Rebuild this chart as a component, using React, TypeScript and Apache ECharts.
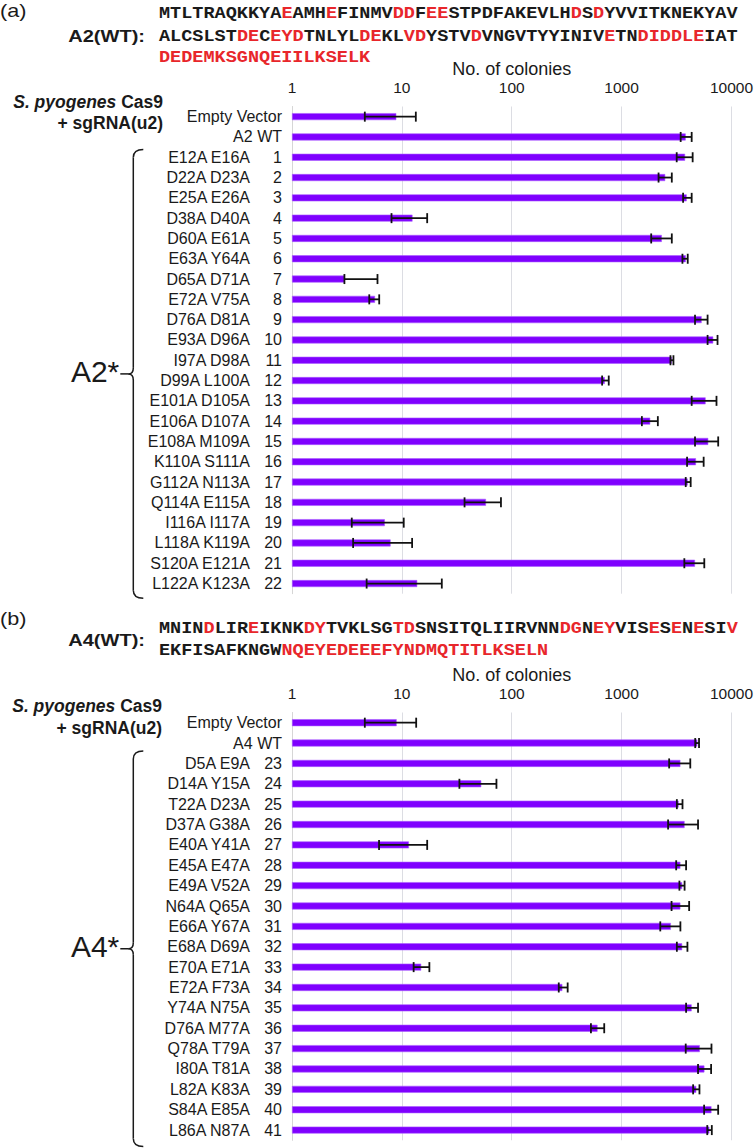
import React, { useEffect, useRef } from "react";
import * as echarts from "echarts";

// ---------- DATA ----------
const A2_SEQ = [
  "MTLTRAQKKYA[E]AMH[E]FINMV[DD]F[EE]STPDFAKEVLH[D]S[D]YVVITKNEKYAV",
  "ALCSLST[DE]C[EYD]TNLYL[DE]KL[VD]YSTV[D]VNGVTYYINIV[E]TN[DIDDLE]IAT",
  "[DEDEMKSGNQEIILKSELK]",
];
const A4_SEQ = [
  "MNIN[D]LIR[E]IKNK[DY]TVKLSG[TD]SNSITQLIIRVNN[DG]N[EY]VIS[E]S[E]N[E]SI[V]",
  "EKFISAFKNGW[NQEYEDEEEFYNDMQTITLKSELN]",
];

const A2_CONTROLS = ["Empty Vector", "A2 WT"];
const A2_MUTANTS = [
  "E12A E16A", "D22A D23A", "E25A E26A", "D38A D40A", "D60A E61A", "E63A Y64A",
  "D65A D71A", "E72A V75A", "D76A D81A", "E93A D96A", "I97A D98A", "D99A L100A",
  "E101A D105A", "E106A D107A", "E108A M109A", "K110A S111A", "G112A N113A",
  "Q114A E115A", "I116A I117A", "L118A K119A", "S120A E121A", "L122A K123A",
];
const A2_NUMBERS = ["1","2","3","4","5","6","7","8","9","10","11","12","13","14","15","16","17","18","19","20","21","22"];
const A2_MEAN = [8.9, 3835, 3785, 2495, 3915, 12.5, 2325, 3840, 3.0, 5.7, 5355, 6825, 2865, 703, 5820, 1823, 6150, 4755, 4000, 58.3, 7.0, 7.9, 4660, 13.8];
const A2_LOW = [4.6, 3450, 3175, 2170, 3630, 8.05, 1860, 3580, 3.0, 5.05, 4660, 6065, 2785, 665, 4345, 1530, 4660, 3945, 3835, 37.2, 3.5, 3.6, 3725, 4.78];
const A2_HIGH = [13.4, 4345, 4435, 2865, 4345, 17, 2865, 4000, 6.0, 6.22, 6065, 7470, 2965, 764, 7310, 2138, 7575, 5585, 4255, 79.8, 10.4, 12.4, 5660, 23.1];

const A4_CONTROLS = ["Empty Vector", "A4 WT"];
const A4_MUTANTS = [
  "D5A E9A", "D14A Y15A", "T22A D23A", "D37A G38A", "E40A Y41A", "E45A E47A",
  "E49A V52A", "N64A Q65A", "E66A Y67A", "E68A D69A", "E70A E71A", "E72A F73A",
  "Y74A N75A", "D76A M77A", "Q78A T79A", "I80A T81A", "L82A K83A", "S84A E85A", "L86A N87A",
];
const A4_NUMBERS = ["23","24","25","26","27","28","29","30","31","32","33","34","35","36","37","38","39","40","41"];
const A4_MEAN = [8.97, 4890, 3430, 52.8, 3305, 3745, 11.6, 3430, 3560, 3430, 2810, 3560, 15.0, 289, 4345, 604, 5155, 5675, 4785, 6580, 6295];
const A4_LOW = [4.6, 4680, 2710, 33.4, 3185, 2650, 6.2, 3140, 3360, 2850, 2250, 3185, 12.8, 268, 3865, 526, 3835, 4965, 4480, 5640, 6025];
const A4_HIGH = [13.5, 5070, 4220, 72.6, 3585, 4965, 17, 3865, 3745, 4120, 3430, 3975, 17.8, 323, 4965, 695, 6580, 6530, 5115, 7570, 6625];

const X_TICKS = ["1", "10", "100", "1000", "10000"];

// ---------- helpers ----------
const SANS = "'Liberation Sans', Arial, Helvetica, sans-serif";
const MONO = "'Liberation Mono', 'Courier New', monospace";
const RED = "#e8262b";
const INK = "#1a1a1a";
const SEQ_SIZE = 16;
const CHAR_W = 11.13;
const SEQ_SCALE = CHAR_W / (SEQ_SIZE * 0.6);

function seqTexts(line: string, x: number, y: number) {
  const parts = line.split(/(\[[A-Z]+\])/).filter((p) => p.length > 0);
  const out: any[] = [];
  let col = 0;
  for (const p of parts) {
    const red = p.startsWith("[");
    const txt = red ? p.slice(1, -1) : p;
    out.push({
      type: "text",
      x: x + col * CHAR_W,
      y,
      scaleX: SEQ_SCALE,
      style: {
        text: txt,
        fill: red ? RED : INK,
        fontFamily: MONO,
        fontWeight: "bold",
        fontSize: SEQ_SIZE,
        align: "left",
        verticalAlign: "middle",
      },
    });
    col += txt.length;
  }
  return out;
}

function plainText(text: string, x: number, y: number, size: number, weight: string, align: string, style = "normal", scaleX = 1) {
  return {
    type: "text",
    x,
    y,
    scaleX,
    style: { text, fill: INK, fontFamily: SANS, fontSize: size, fontWeight: weight, fontStyle: style, align, verticalAlign: "middle" },
  };
}

function hostText(x: number, y1: number, y2: number) {
  const cas = plainText(" Cas9", x, y1, 17.5, "bold", "right");
  const casW = 17.5 * (0.278 + 0.722 + 0.556 + 0.556 + 0.556);
  const sp = plainText("S. pyogenes", x - casW, y1, 17.5, "bold", "right", "italic");
  return [sp, cas, plainText("+ sgRNA(u2)", x, y2, 17.5, "bold", "right")];
}

function brace(x: number, top: number, bottom: number, label: string) {
  const mid = (top + bottom) / 2;
  const st = { stroke: INK, lineWidth: 1.5, fill: "none" };
  const hook = 10;
  return [
    { type: "bezierCurve", shape: { x1: x + hook, y1: top, cpx1: x, cpy1: top, x2: x, y2: top + 8 }, style: st },
    { type: "line", shape: { x1: x, y1: top + 8, x2: x, y2: mid - 6 }, style: st },
    { type: "bezierCurve", shape: { x1: x, y1: mid - 6, cpx1: x, cpy1: mid, x2: x - 5, y2: mid }, style: st },
    { type: "bezierCurve", shape: { x1: x - 5, y1: mid, cpx1: x, cpy1: mid, x2: x, y2: mid + 6 }, style: st },
    { type: "line", shape: { x1: x, y1: mid + 6, x2: x, y2: bottom - 8 }, style: st },
    { type: "bezierCurve", shape: { x1: x, y1: bottom - 8, cpx1: x, cpy1: bottom, x2: x + hook, y2: bottom }, style: st },
    { type: "line", shape: { x1: x - 13, y1: mid, x2: x - 5, y2: mid }, style: st },
    {
      type: "text",
      x: x - 14,
      y: mid - 2,
      style: { text: label, fill: INK, fontFamily: SANS, fontSize: 30, align: "right", verticalAlign: "middle" },
    },
  ];
}

function makeLabels(controls: string[], mutants: string[], numbers: string[]) {
  return [...controls, ...mutants.map((m, i) => `${m} ${numbers[i]}`)];
}

function errData(low: number[], high: number[]) {
  return low.map((l, i) => [l, high[i], i]);
}

const LEFT = 292;
const PLOT_W = 441;

function xAxisCfg(gridIndex: number, nameGap: number) {
  return {
    gridIndex,
    type: "log",
    logBase: 10,
    min: 1,
    max: 10000,
    position: "top",
    name: "No. of colonies",
    nameLocation: "middle",
    nameGap,
    nameTextStyle: { fontFamily: SANS, fontSize: 18, color: INK },
    axisLine: { show: false },
    axisTick: { show: false },
    axisLabel: {
      margin: 11,
      fontFamily: SANS,
      fontSize: 15.5,
      color: INK,
      formatter: (v: number) => {
        const idx = Math.round(Math.log10(v));
        return X_TICKS[idx] ?? String(Math.round(v));
      },
    },
    splitLine: { show: true, lineStyle: { color: "#dcdde3", width: 1 } },
    minorSplitLine: { show: false },
  };
}

function yAxisCfg(gridIndex: number, labels: string[], controls: string[], mutants: string[], numbers: string[]) {
  return {
    gridIndex,
    type: "category",
    inverse: true,
    data: labels,
    axisTick: { show: false },
    axisLine: { show: true, lineStyle: { color: "#d6d6d6", width: 1 } },
    splitLine: { show: false },
    axisLabel: {
      interval: 0,
      margin: 10,
      fontFamily: SANS,
      fontSize: 16,
      color: INK,
      formatter: (_v: string, i: number) => {
        if (i < controls.length) return `{c|${controls[i]}}`;
        const k = i - controls.length;
        return `{m|${mutants[k]}}{n|${numbers[k]}}`;
      },
      rich: {
        c: { fontFamily: SANS, fontSize: 16, color: INK },
        m: { fontFamily: SANS, fontSize: 16, color: INK },
        n: { fontFamily: SANS, fontSize: 16, color: INK, width: 32, align: "right" },
      },
    },
  };
}

function errorRender(params: any, api: any) {
  const yi = api.value(2);
  const lo = api.coord([api.value(0), yi]);
  const hi = api.coord([api.value(1), yi]);
  const h = 5;
  const st = { stroke: "#111111", lineWidth: 1.8 };
  return {
    type: "group",
    children: [
      { type: "line", shape: { x1: lo[0], y1: lo[1], x2: hi[0], y2: hi[1] }, style: st },
      { type: "line", shape: { x1: lo[0], y1: lo[1] - h, x2: lo[0], y2: lo[1] + h }, style: st },
      { type: "line", shape: { x1: hi[0], y1: hi[1] - h, x2: hi[0], y2: hi[1] + h }, style: st },
    ],
  };
}

const barStyle = { color: "#7f00ff", borderColor: "#a95cff", borderWidth: 0.6 };

export default function App() {
  const ref = useRef<HTMLDivElement>(null);

  useEffect(() => {
    document.body.style.margin = "0";
    if (!ref.current) return;
    const chart = echarts.init(ref.current, undefined, { renderer: "svg" });

    const a2Labels = makeLabels(A2_CONTROLS, A2_MUTANTS, A2_NUMBERS);
    const a4Labels = makeLabels(A4_CONTROLS, A4_MUTANTS, A4_NUMBERS);

    const SEQ_X = 159;
    const graphic: any[] = [
      plainText("(a)", 0, 11, 18, "normal", "left", "normal", 1.2),
      plainText("A2(WT):", 145, 36, 17, "bold", "right", "normal", 1.18),
      ...seqTexts(A2_SEQ[0], SEQ_X, 14),
      ...seqTexts(A2_SEQ[1], SEQ_X, 36.5),
      ...seqTexts(A2_SEQ[2], SEQ_X, 57.5),
      ...hostText(163, 101.7, 123.3),
      ...brace(133.3, 149.5, 598.3, "A2*"),
      plainText("(b)", 0, 619, 18, "normal", "left", "normal", 1.2),
      plainText("A4(WT):", 145, 640, 17, "bold", "right", "normal", 1.18),
      ...seqTexts(A4_SEQ[0], SEQ_X, 629.3),
      ...seqTexts(A4_SEQ[1], SEQ_X, 650.5),
      ...hostText(162, 706, 728.3),
      ...brace(133.3, 751, 1146.5, "A4*"),
    ];

    chart.setOption({
      animation: false,
      backgroundColor: "#ffffff",
      grid: [
        { left: LEFT, top: 106.5, width: PLOT_W, height: 24 * 20.3 },
        { left: LEFT, top: 712.5, width: PLOT_W, height: 21 * 20.37 },
      ],
      xAxis: [xAxisCfg(0, 29), xAxisCfg(1, 29)],
      yAxis: [
        yAxisCfg(0, a2Labels, A2_CONTROLS, A2_MUTANTS, A2_NUMBERS),
        yAxisCfg(1, a4Labels, A4_CONTROLS, A4_MUTANTS, A4_NUMBERS),
      ],
      series: [
        { type: "bar", xAxisIndex: 0, yAxisIndex: 0, data: A2_MEAN, barWidth: 7, itemStyle: barStyle },
        {
          type: "custom", xAxisIndex: 0, yAxisIndex: 0, data: errData(A2_LOW, A2_HIGH),
          encode: { x: [0, 1], y: 2 }, renderItem: errorRender, z: 5,
        },
        { type: "bar", xAxisIndex: 1, yAxisIndex: 1, data: A4_MEAN, barWidth: 7, itemStyle: barStyle },
        {
          type: "custom", xAxisIndex: 1, yAxisIndex: 1, data: errData(A4_LOW, A4_HIGH),
          encode: { x: [0, 1], y: 2 }, renderItem: errorRender, z: 5,
        },
      ],
      graphic,
    });

    return () => chart.dispose();
  }, []);

  return <div ref={ref} style={{ position: "absolute", left: 0, top: 0, width: 756, height: 1148 }} />;
}
